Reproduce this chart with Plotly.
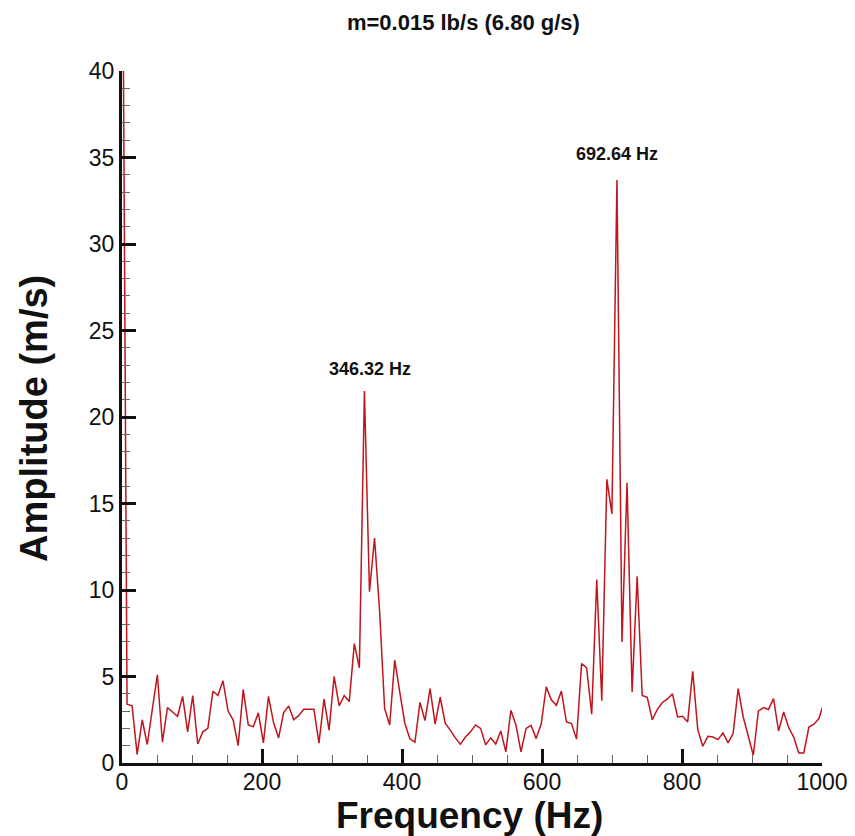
import plotly.graph_objects as go

# FFT bin width (Hz) and amplitude per bin (m/s)
BIN_WIDTH_HZ = 7.215
amplitude = [
    55, 3.4, 3.3, 0.5, 2.5, 1.07, 3.1, 5.1, 1.2, 3.2,
    2.95, 2.7, 3.85, 1.8, 3.9, 1.1, 1.8, 2.0, 4.15, 3.9,
    4.75, 3.0, 2.5, 1.0, 4.25, 2.2, 2.1, 2.9, 1.16, 3.85,
    2.35, 1.45, 2.9, 3.3, 2.5, 2.75, 3.1, 3.1, 3.1, 1.15,
    3.7, 1.9, 5.0, 3.3, 3.9, 3.55, 6.9, 5.5, 21.5, 9.9,
    13.0, 8.8, 3.15, 2.2, 5.95, 4.1, 2.3, 1.4, 1.2, 3.5,
    2.45, 4.3, 2.25, 3.8, 2.3, 1.9, 1.45, 1.08, 1.5, 1.8,
    2.2, 2.0, 1.05, 1.45, 1.1, 1.85, 0.64, 3.05, 2.2, 0.64,
    2.0, 2.18, 1.41, 2.25, 4.4, 3.65, 3.34, 4.16, 2.37, 2.28,
    1.38, 5.75, 5.5, 2.82, 10.6, 3.6, 16.4, 14.4, 33.7, 7.0,
    16.2, 4.1, 10.8, 3.9, 3.8, 2.5, 3.1, 3.5, 3.7, 4.0,
    2.66, 2.7, 2.37, 5.3, 1.93, 0.97, 1.54, 1.5, 1.35, 1.74,
    1.16, 1.7, 4.3, 2.66, 1.5, 0.45, 3.0, 3.2, 3.09, 3.72,
    1.85, 2.95, 2.05, 1.5, 0.58, 0.58, 2.08, 2.24, 2.57, 3.53,
]
frequency = [i * BIN_WIDTH_HZ for i in range(len(amplitude))]

peak_labels = ["346.32 Hz", "692.64 Hz"]
peak_label_x = [354, 707]
peak_label_y = [22.8, 35.2]

title_text = "m=0.015 lb/s (6.80 g/s)"
x_title = "Frequency (Hz)"
y_title = "Amplitude (m/s)"

FONT = "Liberation Sans, Arial, sans-serif"

fig = go.Figure()
fig.add_trace(go.Scatter(
    x=frequency, y=amplitude, mode="lines",
    line=dict(color="#C0151C", width=1.5),
    showlegend=False, hoverinfo="x+y",
))

for txt, px, py in zip(peak_labels, peak_label_x, peak_label_y):
    fig.add_annotation(x=px, y=py, text=f"<b>{txt}</b>", showarrow=False,
                       font=dict(family=FONT, size=18, color="#111"),
                       xanchor="center", yanchor="middle")

fig.add_annotation(x=0.497, y=-0.076, xref="paper", yref="paper",
                   text=f"<b>{x_title}</b>", showarrow=False,
                   font=dict(family=FONT, size=37, color="#111"),
                   xanchor="center", yanchor="middle")
fig.add_annotation(x=-0.125, y=0.498, xref="paper", yref="paper",
                   text=f"<b>{y_title}</b>", showarrow=False, textangle=-90,
                   font=dict(family=FONT, size=38, color="#111"),
                   xanchor="center", yanchor="middle")

fig.update_layout(
    width=855, height=836,
    margin=dict(l=122, r=33, t=71, b=73, autoexpand=False),
    paper_bgcolor="white", plot_bgcolor="white",
    title=dict(text=f"<b>{title_text}</b>", x=0.542, xanchor="center",
               y=1 - 22 / 836, yanchor="middle",
               font=dict(family=FONT, size=22, color="#111")),
    font=dict(family=FONT, color="#111"),
)
fig.update_xaxes(
    range=[0, 1000], tickvals=[0, 200, 400, 600, 800, 1000],
    automargin=False,
    showgrid=False, zeroline=False,
    showline=True, linecolor="#111", linewidth=3,
    ticks="inside", ticklen=14, tickwidth=3, tickcolor="#111",
    ticklabelstandoff=-4,
    tickfont=dict(family=FONT, size=23, color="#111"),
    minor=dict(dtick=50, ticks="inside", ticklen=8, tickwidth=1, tickcolor="#666", showgrid=False),
)
fig.update_yaxes(
    range=[0, 40], tickvals=[0, 5, 10, 15, 20, 25, 30, 35, 40],
    automargin=False,
    showgrid=False, zeroline=False,
    showline=True, linecolor="#111", linewidth=3,
    ticks="inside", ticklen=14, tickwidth=3, tickcolor="#111",
    tickfont=dict(family=FONT, size=23, color="#111"),
    minor=dict(dtick=1, ticks="inside", ticklen=8, tickwidth=1, tickcolor="#666", showgrid=False),
)

fig.write_html("out.html")
